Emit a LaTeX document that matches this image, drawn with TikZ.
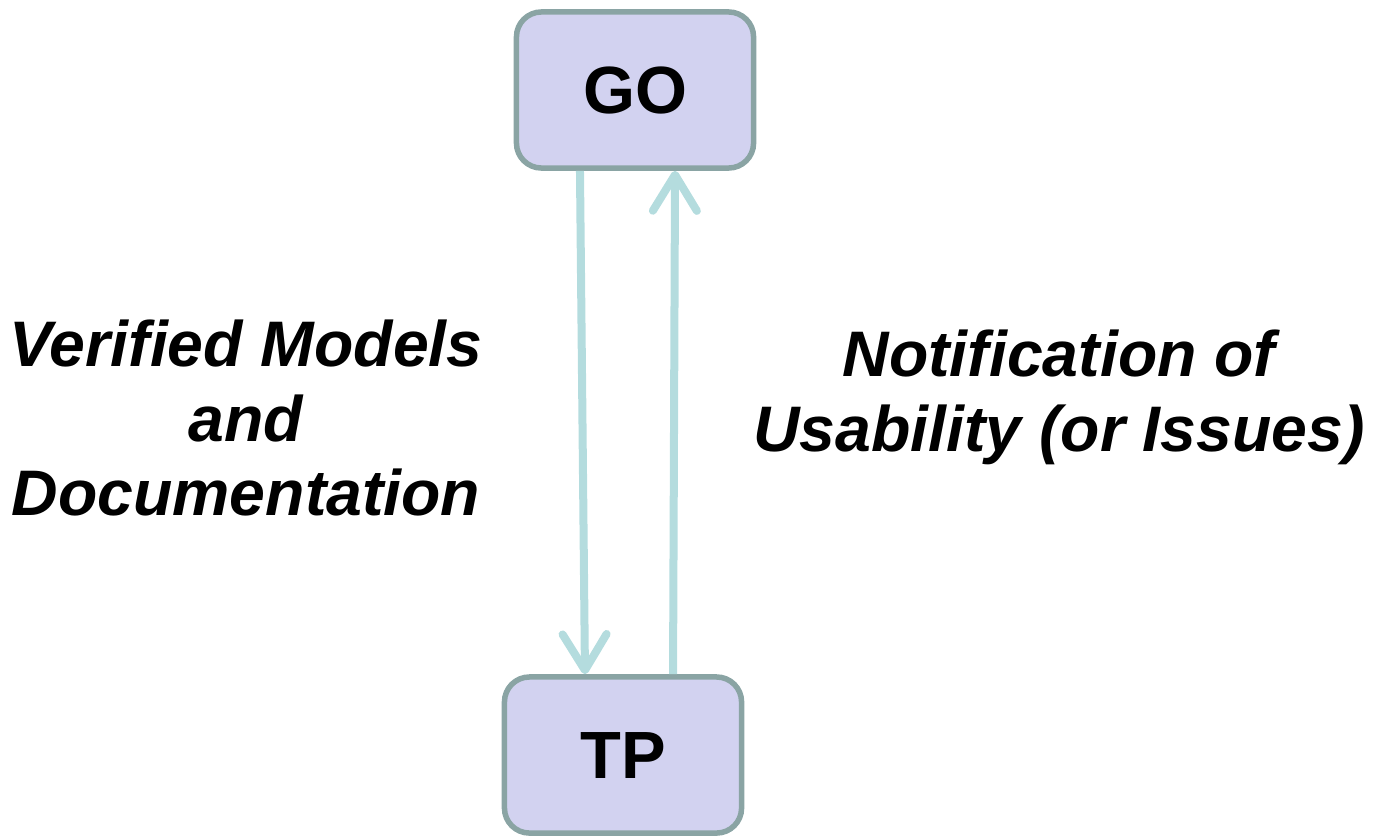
\documentclass[tikz,border=0pt]{standalone}
\usepackage{fontspec}
\setmainfont{Liberation Sans}
\usetikzlibrary{arrows.meta}
\definecolor{boxfill}{HTML}{D2D2F0}
\definecolor{boxline}{HTML}{8AA4A4}
\definecolor{flowline}{HTML}{B4DCDE}

\begin{document}
\begin{tikzpicture}[x=0.01cm, y=-0.01cm,
    party/.style={draw=boxline, fill=boxfill, line width=0.055cm, rounded corners=0.25cm,
      minimum width=2.37cm, minimum height=1.56cm, font=\fontsize{19}{22}\selectfont\bfseries},
    flowlabel/.style={align=center, font=\fontsize{18.3}{21.3}\selectfont\bfseries\itshape},
    flow/.style={draw=flowline, line width=0.08cm,
      -{Straight Barb[length=0.36cm, width=0.44cm, round]}}]
    %%%%% START %%%%%

    \useasboundingbox (0, 0) rectangle (1374, 836);

    \node[party] (GO) at (635, 90) {GO};
    \node[party] (TP) at (623, 755) {TP};

    \draw[flow] ([xshift=-0.55cm]GO.south) -- ([xshift=-0.38cm]TP.north);
    \draw[flow] ([xshift=0.50cm]TP.north) -- ([xshift=0.40cm]GO.south);

    \node[flowlabel] (models) at (246, 418) {Verified Models\\and\\Documentation};
    \node[flowlabel] (usability) at (1059, 397) {Notification of\\Usability (or Issues)};

    %%%%% END %%%%%
\end{tikzpicture}
\end{document}
